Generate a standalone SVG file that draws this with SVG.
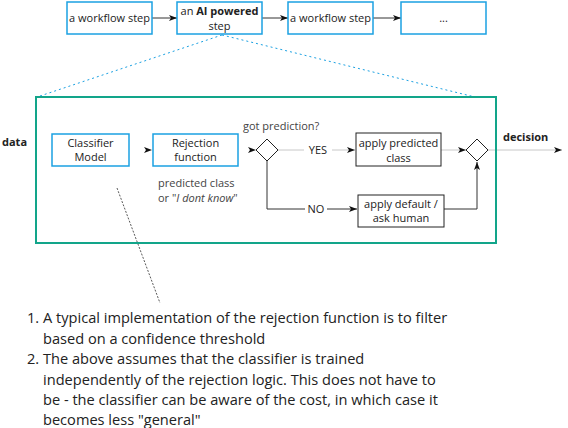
<svg xmlns="http://www.w3.org/2000/svg" width="568" height="428" viewBox="0 0 568 428">
<defs>
<style>
text{font-family:"Open Sans","Noto Sans","Liberation Sans",sans-serif;font-size:11px;fill:#222}
.c{text-anchor:middle}
.b{font-weight:bold}
.blue{fill:#fff;stroke:#1ba1e2;stroke-width:1.5}
.box{fill:#fff;stroke:#222;stroke-width:1}
.dia{fill:#fff;stroke:#222;stroke-width:1}
.lt{fill:none;stroke:#c8c8c8;stroke-width:1}
.dk{fill:none;stroke:#333;stroke-width:1}
.inv{fill:none;stroke:#fff;stroke-width:1}
.fn{font-size:14.6px;fill:#222}
.soft{fill:#444}
</style>
<marker id="ah" viewBox="0 0 8 6" refX="8" refY="3" markerWidth="8" markerHeight="6" markerUnits="userSpaceOnUse" orient="auto">
<path d="M0,0 L8,3 L0,6 L2,3 Z" fill="#111"/>
</marker>
</defs>
<g id="connectors">
<path class="dk" d="M152,18 H177" marker-end="url(#ah)"/>
<path class="dk" d="M262,18 H288" marker-end="url(#ah)"/>
<path class="dk" d="M373,18 H401" marker-end="url(#ah)"/>
<path d="M222,35 L37,97" fill="none" stroke="#1ba1e2" stroke-width="1" stroke-dasharray="2,3"/>
<path d="M222,35 L475,97" fill="none" stroke="#1ba1e2" stroke-width="1" stroke-dasharray="2,3"/>
<path class="inv" d="M130,150 H152" marker-end="url(#ah)"/>
<path class="inv" d="M239,150 H256" marker-end="url(#ah)"/>
<path class="lt" d="M278,150 H355" marker-end="url(#ah)"/>
<path class="lt" d="M441,150 H466" marker-end="url(#ah)"/>
<path class="dk" d="M267,161 V209 H357" marker-end="url(#ah)"/>
<path class="dk" d="M444,209 H477 V162" marker-end="url(#ah)"/>
<path class="lt" d="M488,150 H562" marker-end="url(#ah)"/>
<path d="M117,188 L160,303" fill="none" stroke="#111" stroke-width="0.7" stroke-dasharray="2,1.5"/>
<rect x="304" y="143" width="28" height="14" fill="#fff"/>
<text class="c" x="318" y="154">YES</text>
<rect x="305" y="202" width="22" height="14" fill="#fff"/>
<text class="c" x="316" y="213">NO</text>
</g>
<g id="container">
<rect x="36" y="97" width="460" height="146" fill="none" stroke="#12a58a" stroke-width="2"/>
</g>
<g id="step1">
<rect class="blue" x="67" y="2" width="85" height="32"/>
<text class="c" x="109.5" y="22">a workflow step</text>
</g>
<g id="step-ai">
<rect class="blue" x="177" y="2" width="85" height="32"/>
<text class="c" x="219.5" y="15">an <tspan class="b">AI powered</tspan></text>
<text class="c" x="219.5" y="30">step</text>
</g>
<g id="step3">
<rect class="blue" x="288" y="2" width="85" height="32"/>
<text class="c" x="330.5" y="22">a workflow step</text>
</g>
<g id="step4">
<rect class="blue" x="401" y="2" width="85" height="32"/>
<text class="c" x="443.5" y="22">...</text>
</g>
<g id="data">
<text class="b" x="2" y="146">data</text>
</g>
<g id="classifier">
<rect class="blue" x="52" y="134" width="77" height="32"/>
<text class="c" x="90.5" y="147">Classifier</text>
<text class="c" x="90.5" y="161">Model</text>
</g>
<g id="rejection">
<rect class="blue" x="153" y="134" width="85" height="32" stroke-width="2.5"/>
<text class="c" x="195.5" y="147">Rejection</text>
<text class="c" x="195.5" y="161">function</text>
</g>
<g id="rejection-note">
<text class="soft" x="158" y="187">predicted class</text>
<text class="soft" x="158" y="202">or "<tspan font-style="italic">I dont know</tspan>"</text>
</g>
<g id="gate1">
<path class="dia" d="M267,139 L278,150 L267,161 L256,150 Z"/>
<text class="soft" x="243" y="130">got prediction?</text>
</g>
<g id="apply-predicted">
<rect class="box" x="356" y="133" width="85" height="33"/>
<text class="c" x="398.5" y="147">apply predicted</text>
<text class="c" x="398.5" y="162">class</text>
</g>
<g id="apply-default">
<rect class="box" x="358" y="195" width="86" height="32"/>
<text class="c" x="401" y="208">apply default /</text>
<text class="c" x="401" y="222">ask human</text>
</g>
<g id="gate2">
<path class="dia" d="M477,139 L488,150 L477,161 L466,150 Z"/>
</g>
<g id="decision">
<text class="b" x="503" y="141">decision</text>
</g>
<g id="notes">
<text class="fn" x="27" y="323">1. <tspan x="43">A typical implementation of the rejection function is to filter</tspan></text>
<text class="fn" x="43" y="343.5">based on a confidence threshold</text>
<text class="fn" x="27" y="364">2. <tspan x="43">The above assumes that the classifier is trained</tspan></text>
<text class="fn" x="43" y="384.5">independently of the rejection logic. This does not have to</text>
<text class="fn" x="43" y="405">be - the classifier can be aware of the cost, in which case it</text>
<text class="fn" x="43" y="425">becomes less "general"</text>
</g>
</svg>
